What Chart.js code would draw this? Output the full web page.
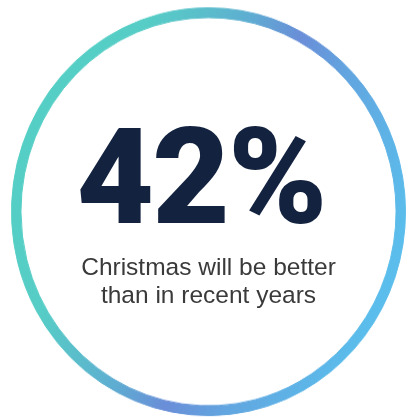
<!DOCTYPE html>
<html>
<head>
<meta charset="utf-8">
<script src="https://cdn.jsdelivr.net/npm/chart.js@4/dist/chart.umd.min.js"></script>
<style>
  html, body { margin: 0; padding: 0; background: #fff; overflow: hidden; }
  #stage { position: relative; width: 408px; height: 417px; }
  #ringBox { position: absolute; left: 0; top: 0; width: 408px; height: 403px; transform: scaleY(1.035); transform-origin: 0 0; }
  #big { position: absolute; left: 0; top: 112px; width: 402px; text-align: center;
         font: 900 134px Roboto, sans-serif; line-height: 132px; color: #13223F; letter-spacing: -2px; }
  #cap { position: absolute; left: 0; top: 252.5px; width: 417px; text-align: center;
         font: 24.5px "Liberation Sans", Arial, sans-serif; line-height: 28px; color: #3a3a3a; }
</style>
</head>
<body>
<div id="stage">
  <div id="ringBox"><canvas id="ring"></canvas></div>
  <div id="big"></div>
  <div id="cap"></div>
</div>
<script>
// share of respondents, and the rest of the ring
const labels = ['Better', 'Other'];
const shares = [42, 58];
const captionLines = ['Christmas will be better', 'than in recent years'];

// teal -> violet -> sky blue sweep across the ring
const ringStops = [
  [0.00, '#55CFC5'],
  [0.17, '#56CDC6'],
  [0.31, '#5BBDCB'],
  [0.42, '#5EAED2'],
  [0.57, '#6A8ED8'],
  [0.72, '#62A5E0'],
  [1.00, '#5BBDEB']
];

let grad = null, gradKey = '';
function ringFill(ctx) {
  const chart = ctx.chart;
  const area = chart.chartArea;
  if (!area) return ringStops[0][1];
  const key = area.left + ',' + area.top + ',' + area.right + ',' + area.bottom;
  if (grad && gradKey === key) return grad;
  const cx = (area.left + area.right) / 2, cy = (area.top + area.bottom) / 2;
  const r = Math.min(area.right - area.left, area.bottom - area.top) / 2;
  const ang = 20.8 * Math.PI / 180;
  const dx = Math.cos(ang) * r * 0.94, dy = Math.sin(ang) * r * 0.94;
  grad = chart.ctx.createLinearGradient(cx - dx, cy - dy, cx + dx, cy + dy);
  ringStops.forEach(s => grad.addColorStop(s[0], s[1]));
  gradKey = key;
  return grad;
}

new Chart(document.getElementById('ring'), {
  type: 'doughnut',
  data: {
    labels,
    datasets: [{
      data: shares,
      backgroundColor: ringFill,
      // same fill on the outline so the two slices join without a seam
      borderColor: ringFill,
      borderWidth: 1
    }]
  },
  options: {
    responsive: true,
    maintainAspectRatio: false,
    animation: false,
    cutout: '95.2%',
    rotation: 0,
    layout: { padding: { left: 11, right: 2, top: 7, bottom: 1 } },
    plugins: { legend: { display: false }, tooltip: { enabled: false } },
    events: []
  }
});

document.getElementById('big').textContent = shares[0] + '%';
document.getElementById('cap').innerHTML = captionLines.join('<br>');
</script>
</body>
</html>
